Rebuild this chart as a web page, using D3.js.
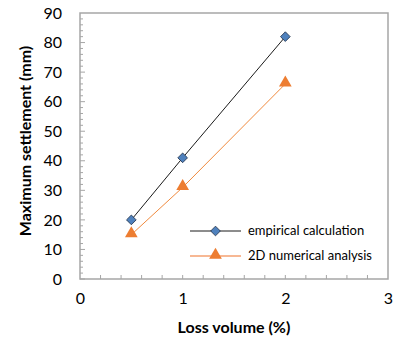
<!DOCTYPE html>
<html>
<head>
<meta charset="utf-8">
<script src="https://cdn.jsdelivr.net/npm/d3@7"></script>
<style>
  body { margin: 0; background: #fff; }
  text { font-family: Lato, "Open Sans", sans-serif; }
</style>
</head>
<body>
<div class="chart"></div>
<script>
// data
var lossVolume = [0.5, 1, 2];
var empirical = [20, 41, 82];
var numerical2D = [15, 31, 66];
var seriesNames = ["empirical calculation", "2D numerical analysis"];
var xTicks = [0, 1, 2, 3];
var yTicks = [0, 10, 20, 30, 40, 50, 60, 70, 80, 90];

var W = 395, H = 346;
var m = {left: 80, right: 7, top: 13, bottom: 67};

var svg = d3.select(".chart").append("svg")
    .attr("width", W).attr("height", H);

var x = d3.scaleLinear().domain([0, 3]).range([m.left, W - m.right]);
var y = d3.scaleLinear().domain([0, 90]).range([H - m.bottom, m.top]);

// frame
svg.append("rect")
    .attr("x", x(0)).attr("y", y(90))
    .attr("width", x(3) - x(0)).attr("height", y(0) - y(90))
    .attr("fill", "none").attr("stroke", "#a6a6a6").attr("stroke-width", 1.5);

// minor ticks inside (y every 2, x every 0.2)
var yMinor = d3.range(0, 90, 2);
svg.append("g").selectAll("line").data(yMinor).enter().append("line")
    .attr("x1", x(0)).attr("x2", function(d) { return x(0) + (d % 10 == 0 ? 5 : 3); })
    .attr("y1", function(d) { return y(d); }).attr("y2", function(d) { return y(d); })
    .attr("stroke", "#a6a6a6").attr("stroke-width", 1);
var xMinor = d3.range(1, 15).map(function(i) { return i * 0.2; });
svg.append("g").selectAll("line").data(xMinor).enter().append("line")
    .attr("y1", y(0)).attr("y2", y(0) - 4)
    .attr("x1", function(d) { return x(d); }).attr("x2", function(d) { return x(d); })
    .attr("stroke", "#a6a6a6").attr("stroke-width", 1);

// tick labels via axes
var yAxis = svg.append("g").attr("transform", "translate(" + (x(0) - 4) + ",0)")
    .call(d3.axisLeft(y).tickValues(yTicks).tickFormat(d3.format("d")).tickSize(0).tickPadding(14));
var xAxis = svg.append("g").attr("transform", "translate(0," + (y(0) + 9) + ")")
    .call(d3.axisBottom(x).tickValues(xTicks).tickFormat(d3.format("d")).tickSize(0).tickPadding(5));
[yAxis, xAxis].forEach(function(a) {
  a.select(".domain").remove();
  a.selectAll("text").attr("font-size", 16).attr("fill", "#000")
    .attr("font-family", "Lato, sans-serif");
});

// axis titles
svg.append("text")
    .attr("transform", "translate(31," + ((y(0) + y(90)) / 2 - 5) + ") rotate(-90)")
    .attr("text-anchor", "middle").attr("font-size", 16).attr("font-weight", "bold")
    .text("Maximum settlement (mm)");
svg.append("text")
    .attr("x", (x(0) + x(3)) / 2).attr("y", 333)
    .attr("text-anchor", "middle").attr("font-size", 16).attr("font-weight", "bold")
    .text("Loss volume (%)");

var line = d3.line()
    .x(function(d) { return x(d[0]); })
    .y(function(d) { return y(d[1]); });

var s1 = d3.zip(lossVolume, empirical);
var s2 = d3.zip(lossVolume, numerical2D);

svg.append("path").datum(s1).attr("d", line)
    .attr("fill", "none").attr("stroke", "#1a1a1a").attr("stroke-width", 1);
svg.append("path").datum(s2).attr("d", line)
    .attr("fill", "none").attr("stroke", "#f08a3e").attr("stroke-width", 1);

var diamond = d3.symbol().type(d3.symbolDiamond2).size(60);
var triangle = d3.symbol().type(d3.symbolTriangle).size(70);

function drawDiamond(g, px, py) {
  g.append("path").attr("d", diamond())
    .attr("transform", "translate(" + px + "," + py + ")")
    .attr("fill", "#4f81bd").attr("stroke", "#1f2f45").attr("stroke-width", 0.8);
}
function drawTriangle(g, px, py) {
  g.append("path").attr("d", triangle())
    .attr("transform", "translate(" + px + "," + (py - 1) + ")")
    .attr("fill", "#ed7d31");
}

s1.forEach(function(d) { drawDiamond(svg, x(d[0]), y(d[1])); });
s2.forEach(function(d) { drawTriangle(svg, x(d[0]), y(d[1])); });

// legend
var legend = svg.append("g");
var ly = [231, 256];
legend.append("line").attr("x1", 190).attr("x2", 241).attr("y1", ly[0]).attr("y2", ly[0])
    .attr("stroke", "#1a1a1a").attr("stroke-width", 1);
drawDiamond(legend, 215.5, ly[0]);
legend.append("line").attr("x1", 190).attr("x2", 241).attr("y1", ly[1]).attr("y2", ly[1])
    .attr("stroke", "#f4a070").attr("stroke-width", 1.5);
drawTriangle(legend, 215.5, ly[1]);
seriesNames.forEach(function(n, i) {
  legend.append("text").attr("x", 248).attr("y", ly[i] + 4)
    .attr("font-size", 13).attr("fill", "#000").text(n);
});
</script>
</body>
</html>
